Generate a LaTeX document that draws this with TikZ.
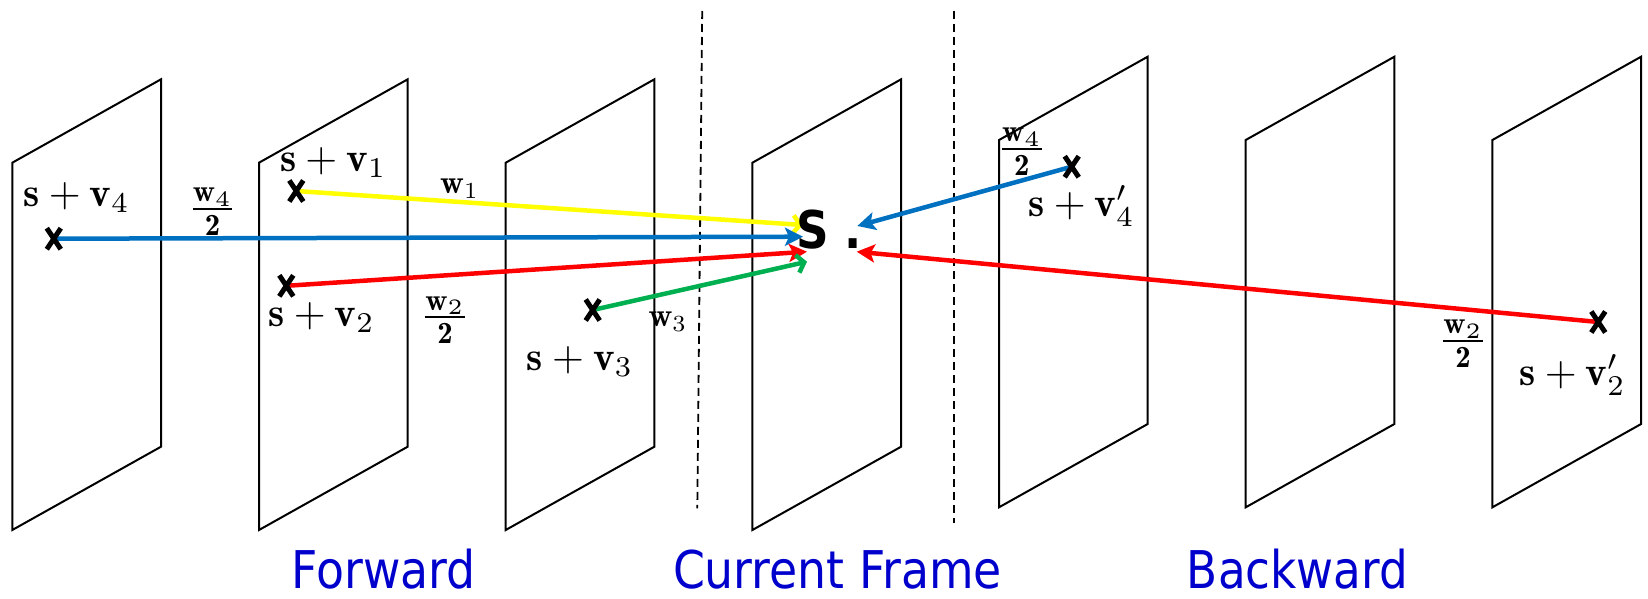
\documentclass[tikz,border=0pt]{standalone}
\usepackage{fontspec}
\newfontfamily\dejavu{DejaVu Sans}
\usetikzlibrary{arrows.meta}
\definecolor{ablue}{RGB}{0,112,192}
\definecolor{agreen}{RGB}{0,176,80}
\definecolor{ayellow}{RGB}{255,255,0}
\definecolor{ared}{RGB}{255,0,0}
\definecolor{tblue}{RGB}{0,0,204}
\tikzset{
  xmark/.pic={\draw[line width=5pt] (-7,-10.5)--(7,10.5) (7,-10.5)--(-7,10.5);},
}
\begin{document}
\begin{tikzpicture}[x=1pt,y=-1pt,
  frame/.style={draw=black,line width=2pt,line join=miter},
  sepline/.style={draw=black,line width=1.8pt,dash pattern=on 8pt off 5pt},
  mlabel/.style={inner sep=0pt,anchor=base west},
  fraclabel/.style={inner sep=0pt,anchor=base},
  title/.style={inner sep=0pt,anchor=base,text depth=0pt,text=tblue,font=\dejavu\fontsize{52}{60}\selectfont},
  conn/.style={line width=4.5pt},
  barb/.style={-{Straight Barb[length=7pt,width=18pt]}},
  stl/.style={-{Stealth[length=18pt,width=18pt,inset=4pt]}},
]
\useasboundingbox (0,0) rectangle (1648,599);

% frames
\foreach \L in {12.3,259,505.7,752.4}
  \draw[frame] (\L,162.7) -- (\L+148.7,79.3) -- (\L+148.7,446.7) -- (\L,530) -- cycle;
\foreach \L in {999,1245.7,1492.4}
  \draw[frame] (\L,140) -- (\L+148.7,56.7) -- (\L+148.7,424) -- (\L,507.3) -- cycle;

% separators
\coordinate (d1t) at (702.2,11);
\coordinate (d1b) at (697.3,508.3);
\coordinate (d2t) at (954,11);
\coordinate (d2b) at (954,522.7);
\draw[sepline] (d1t) -- (d1b);
\draw[sepline] (d2t) -- (d2b);

% points
\coordinate (x4) at (53.8,238.7);
\coordinate (x1) at (296.3,191);
\coordinate (x2) at (286.3,285.8);
\coordinate (x3) at (592.7,310);
\coordinate (x4p) at (1071.7,166.7);
\coordinate (x2p) at (1598.3,322);
% arrow ends
\coordinate (ty) at (803,225);
\coordinate (tb) at (803,236.7);
\coordinate (tr) at (807,251.7);
\coordinate (tg) at (807,261.7);
\coordinate (tbp) at (857.3,226);
\coordinate (trp) at (856.7,251.7);

% connectors
\draw[conn,ayellow,barb] (x1) -- (ty);
\draw[conn,ablue,stl] (x4) -- (tb);
\draw[conn,ared,stl] (x2) -- (tr);
\draw[conn,agreen,barb] (x3) -- (tg);
\draw[conn,ablue,stl] (x4p) -- (tbp);
\draw[conn,ared,stl] (x2p) -- (trp);

% x marks
\foreach \p in {x4,x1,x2,x3,x4p,x2p}
  \pic at (\p) {xmark};

% S
\node[inner sep=0pt,anchor=base west,font=\dejavu\bfseries\fontsize{52}{60}\selectfont] (s) at (796,248.3) {\scalebox{0.87}[1]{S .}};

% point labels
\node[mlabel] (l4) at (23.3,206.7) {\scalebox{4.1}{$\mathbf{s}+\mathbf{v}_4$}};
\node[mlabel] (l1) at (280,171.7) {\scalebox{4.1}{$\mathbf{s}+\mathbf{v}_1$}};
\node[mlabel] (l2) at (268.3,326.7) {\scalebox{4.1}{$\mathbf{s}+\mathbf{v}_2$}};
\node[mlabel] (l3) at (526.7,370.5) {\scalebox{4.1}{$\mathbf{s}+\mathbf{v}_3$}};
\node[mlabel] (l4p) at (1028.3,216.7) {\scalebox{4.1}{$\mathbf{s}+\mathbf{v}_4'$}};
\node[mlabel] (l2p) at (1519.3,385) {\scalebox{4.1}{$\mathbf{s}+\mathbf{v}_2'$}};

% weights
\node[fraclabel] (f4) at (212.5,220) {\scalebox{4.4}{$\frac{\mathbf{w}_4}{\mathbf{2}}$}};
\node[fraclabel] (f2) at (445,328.3) {\scalebox{4.4}{$\frac{\mathbf{w}_2}{\mathbf{2}}$}};
\node[fraclabel] (f4p) at (1021.8,160) {\scalebox{4.4}{$\frac{\mathbf{w}_4}{\mathbf{2}}$}};
\node[fraclabel] (f2p) at (1463,352) {\scalebox{4.4}{$\frac{\mathbf{w}_2}{\mathbf{2}}$}};
\node[mlabel] (w1) at (440,193.3) {\scalebox{3.3}{$\mathbf{w}_1$}};
\node[mlabel] (w3) at (648.3,326.7) {\scalebox{3.3}{$\mathbf{w}_3$}};

% titles
\node[title] (fw) at (383.5,588.5) {\scalebox{0.88}[1]{Forward}};
\node[title] (cf) at (837.5,588.5) {\scalebox{0.88}[1]{Current Frame}};
\node[title] (bw) at (1297.5,588.5) {\scalebox{0.87}[1]{Backward}};
\end{tikzpicture}
\end{document}
